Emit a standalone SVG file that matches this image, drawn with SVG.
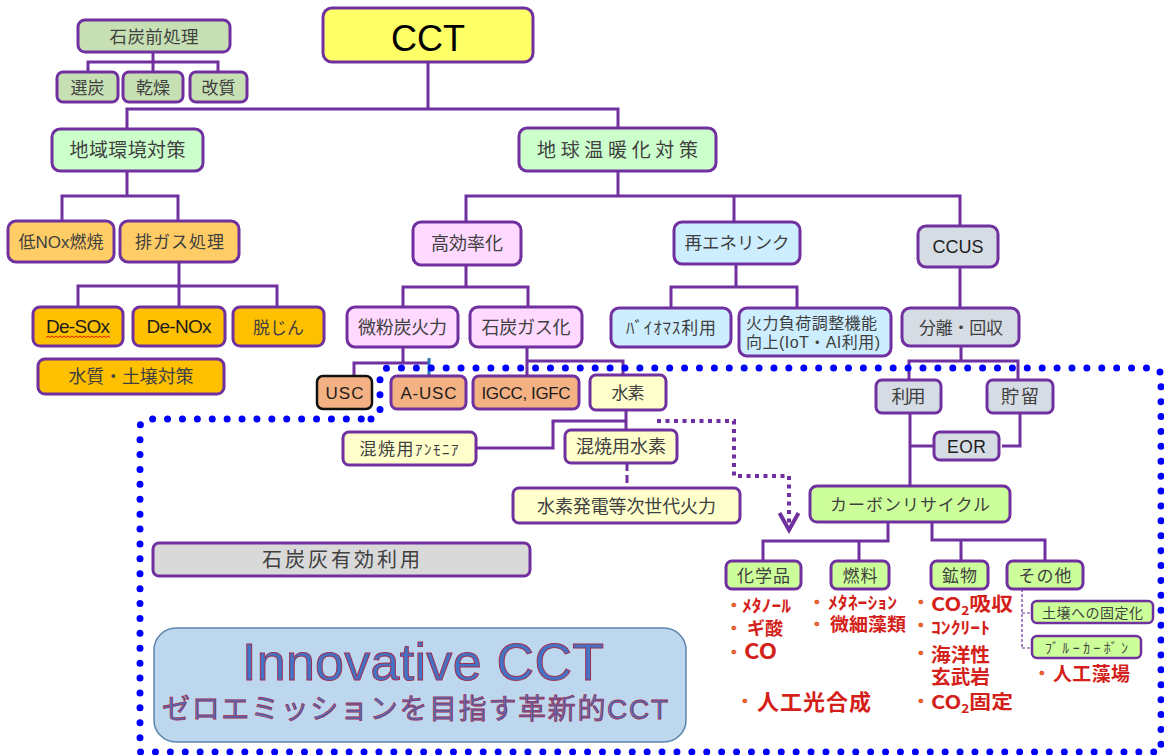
<svg xmlns="http://www.w3.org/2000/svg" width="1164" height="755" viewBox="0 0 1164 755" font-size="17">
<style>
.n{stroke:#7030a0;stroke-width:3}
.t{font-family:"Liberation Sans","Noto Sans CJK JP",sans-serif;fill:#404040;text-anchor:middle}
.l{fill:#1c1c1c}
.c{fill:none;stroke:#7030a0;stroke-width:3}
.r{font-family:"Noto Sans CJK JP","Liberation Sans",sans-serif;font-weight:700;fill:#d41f1a}
.b{font-family:"Liberation Sans",sans-serif;font-size:15px;fill:#f06a2a;stroke:#cc2200;stroke-width:0.5;text-anchor:middle}
.g1{fill:#c6e0b4}.g2{fill:#ccffcc}.o1{fill:#ffcc66}.o2{fill:#ffc000}.p{fill:#ffd9ff}.bl{fill:#cdeeff}.gr{fill:#d6dce4}.sa{fill:#f4b183}.y{fill:#ffffcc}.lg{fill:#ccff99}
</style>
<defs>
<marker id="chev" markerUnits="userSpaceOnUse" viewBox="-22 -13 26 26" refX="0" refY="0" markerWidth="26" markerHeight="26" orient="auto">
<path d="M-17,-9.5 L0,0 L-17,9.5" fill="none" stroke="#7030a0" stroke-width="4"/>
</marker>
</defs>
<rect width="1164" height="755" fill="#ffffff"/>
<g id="connectors" class="c">
<path d="M153,52 V62 M88,72 V62 H218 V72 M153,62 V72"/>
<path d="M428,62 V109 M127,129 V109 H618 V128"/>
<path d="M127,171 V196 M62,221 V196 H178 V221"/>
<path d="M179,262 V286 M78,307 V286 H277 V307 M179,286 V307"/>
<path d="M618,171 V196 M466,222 V196 H960 V226 M734,196 V222"/>
<path d="M466,265 V287 M403,307 V287 H528 V307"/>
<path d="M736,264 V287 M671,308 V287 H797 V308"/>
<path d="M960,267 V308"/>
<path d="M961,346 V361 M909,380 V361 H1018 V380"/>
<path d="M403,347 V363 M354,376 V363 H429"/>
<path d="M429,358 V375" style="stroke:#2e75b6"/>
<path d="M527,347 V377 M527,361 H623 V375"/>
<path d="M626,410 V430 M626,421 H553 V448 H476"/>
<path d="M627,463 V488" stroke-dasharray="8 4"/>
<path d="M910,413 V486 M910,446 H934"/>
<path d="M1020,413 V446 H1002"/>
<path d="M888,522 V541 H763 V561 M859,541 V561"/>
<path d="M932,522 V540 H1045 V561 M961,540 V561"/>
<path d="M1022,589 V648 M1022,613 H1032 M1022,648 H1032" style="stroke-width:1.2" stroke-dasharray="3 2"/>
<path d="M657,421 H734 V476 H789 V530" style="stroke-width:4" stroke-dasharray="4 4.5" marker-end="url(#chev)"/>
</g>
<path id="innovative-area" d="M371,419 Q380,419 380,410 V377 Q380,368 389,368 H1152 Q1161,368 1161,377 V752 H140 V428 Q140,419 149,419 Z" fill="none" stroke="#0000ff" stroke-width="7" stroke-linecap="round" stroke-dasharray="0 14.9"/>
<g id="sekitan-maeshori"><rect class="n g1" x="78" y="20" width="152" height="32" rx="7"/><text class="t" x="154" y="42.5" font-size="17.5" textLength="89">石炭前処理</text></g>
<g id="sentan"><rect class="n g1" x="57" y="72" width="61" height="30" rx="6"/><text class="t" x="87.5" y="93.5" textLength="34">選炭</text></g>
<g id="kanso"><rect class="n g1" x="123" y="72" width="60" height="30" rx="6"/><text class="t" x="153" y="93.5" textLength="34">乾燥</text></g>
<g id="kaishitsu"><rect class="n g1" x="190" y="72" width="57" height="30" rx="6"/><text class="t" x="218.5" y="93.5" textLength="34">改質</text></g>
<g id="cct"><rect class="n" x="323" y="8" width="210" height="54" rx="9" fill="#ffff66"/><text class="t" x="428" y="51" font-size="36" style="fill:#000">CCT</text></g>
<g id="chiiki"><rect class="n g2" x="52" y="129" width="151" height="42" rx="8"/><text class="t" x="127.5" y="157" font-size="19" textLength="116">地域環境対策</text></g>
<g id="chikyu"><rect class="n g2" x="519" y="128" width="197" height="43" rx="8"/><text class="t" x="617.5" y="157" font-size="19" textLength="161">地球温暖化対策</text></g>
<g id="low-nox"><rect class="n o1" x="8" y="221" width="106" height="41" rx="8"/><text class="t" x="61" y="248" textLength="85">低NOx燃焼</text></g>
<g id="haigasu"><rect class="n o1" x="120" y="221" width="119" height="41" rx="8"/><text class="t" x="179.5" y="248" textLength="89">排ガス処理</text></g>
<g id="de-sox"><rect class="n o2" x="33" y="307" width="90" height="39" rx="7"/><text class="t l" x="78" y="333" font-size="19" textLength="64">De-SOx</text><path d="M46,337.5 l2,-1.5 l2,1.5 l2,-1.5 l2,1.5 l2,-1.5 l2,1.5 l2,-1.5 l2,1.5 l2,-1.5 l2,1.5 l2,-1.5 l2,1.5 l2,-1.5 l2,1.5 l2,-1.5 l2,1.5 l2,-1.5 l2,1.5 l2,-1.5 l2,1.5 l2,-1.5 l2,1.5 l2,-1.5 l2,1.5 l2,-1.5 l2,1.5 l2,-1.5 l2,1.5 l2,-1.5 l2,1.5 l2,-1.5 l2,1.5" fill="none" stroke="#e02020" stroke-width="1"/></g>
<g id="de-nox"><rect class="n o2" x="133" y="307" width="92" height="39" rx="7"/><text class="t l" x="179" y="333" font-size="19" textLength="65">De-NOx</text></g>
<g id="datsujin"><rect class="n o2" x="233" y="307" width="91" height="39" rx="7"/><text class="t" x="278.5" y="334" textLength="51">脱じん</text></g>
<g id="suishitsu"><rect class="n o2" x="38" y="359" width="186" height="35" rx="7"/><text class="t" x="131" y="383" font-size="18" textLength="125">水質・土壌対策</text></g>
<g id="kokoritsu"><rect class="n p" x="413" y="222" width="108" height="43" rx="8"/><text class="t" x="467" y="250" font-size="18" textLength="72">高効率化</text></g>
<g id="bifuntan"><rect class="n p" x="347" y="307" width="111" height="40" rx="8"/><text class="t" x="402.5" y="333.5" font-size="18" textLength="89">微粉炭火力</text></g>
<g id="gasuka"><rect class="n p" x="470" y="307" width="112" height="40" rx="8"/><text class="t" x="526" y="333.5" font-size="18" textLength="89">石炭ガス化</text></g>
<g id="saiene"><rect class="n bl" x="674" y="222" width="126" height="42" rx="8"/><text class="t" x="737" y="249" font-size="17.5" textLength="105">再エネリンク</text></g>
<g id="biomass"><rect class="n bl" x="611" y="308" width="120" height="39" rx="8"/><text class="t" x="671" y="334" textLength="90">ﾊﾞｲｵﾏｽ利用</text></g>
<g id="karyoku-fuka"><rect class="n bl" x="739" y="308" width="152" height="48" rx="8"/><text class="t" x="746" y="329" font-size="16" style="text-anchor:start" textLength="131">火力負荷調整機能</text><text class="t" x="746" y="347.5" font-size="16" style="text-anchor:start" textLength="134">向上(IoT・AI利用)</text></g>
<g id="ccus"><rect class="n gr" x="918" y="226" width="80" height="41" rx="8"/><text class="t l" x="958" y="253" font-size="18" textLength="51">CCUS</text></g>
<g id="bunri"><rect class="n gr" x="902" y="308" width="117" height="38" rx="8"/><text class="t" x="961" y="333.5" textLength="84">分離・回収</text></g>
<g id="usc"><rect class="sa" x="317" y="376" width="55" height="33" rx="6" stroke="#111" stroke-width="2.5"/><text class="t l" x="344.5" y="398.5" textLength="38">USC</text></g>
<g id="a-usc"><rect class="n sa" x="391" y="376" width="75" height="33" rx="6"/><text class="t l" x="428.5" y="398.5" textLength="56">A-USC</text></g>
<g id="igcc"><rect class="n sa" x="473" y="376" width="106" height="33" rx="6"/><text class="t l" x="526" y="398.5" textLength="89">IGCC, IGFC</text></g>
<g id="suiso"><rect class="n y" x="590" y="375" width="76" height="35" rx="6"/><text class="t" x="628" y="399" textLength="33">水素</text></g>
<g id="konsho-ammonia"><rect class="n y" x="343" y="432" width="133" height="33" rx="6"/><text class="t" x="409" y="455" textLength="99">混焼用<tspan font-size="15">ｱﾝﾓﾆｱ</tspan></text></g>
<g id="konsho-suiso"><rect class="n y" x="565" y="430" width="112" height="33" rx="6"/><text class="t" x="621" y="453" font-size="18" textLength="90">混焼用水素</text></g>
<g id="suiso-hatsuden"><rect class="n y" x="513" y="488" width="227" height="35" rx="6"/><text class="t" x="626.5" y="512.5" font-size="18" textLength="179">水素発電等次世代火力</text></g>
<g id="sekitanbai"><rect class="n" x="153" y="543" width="377" height="33" rx="6" fill="#d9d9d9"/><text class="t" x="341" y="567" font-size="20" textLength="158">石炭灰有効利用</text></g>
<g id="riyo"><rect class="n gr" x="876" y="380" width="65" height="33" rx="6"/><text class="t" x="908.5" y="403" font-size="18" textLength="34">利用</text></g>
<g id="choryu"><rect class="n gr" x="987" y="380" width="66" height="33" rx="6"/><text class="t" x="1020" y="403" font-size="18" textLength="38">貯留</text></g>
<g id="eor"><rect class="n gr" x="934" y="432" width="65" height="28" rx="6"/><text class="t l" x="966.5" y="452.5" font-size="17.5" textLength="39">EOR</text></g>
<g id="carbon-recycle"><rect class="n lg" x="810" y="486" width="200" height="36" rx="7"/><text class="t" x="910" y="510.5" textLength="160">カーボンリサイクル</text></g>
<g id="kagakuhin"><rect class="n lg" x="726" y="561" width="75" height="28" rx="6"/><text class="t" x="763.5" y="581.5" textLength="53">化学品</text></g>
<g id="nenryo"><rect class="n lg" x="831" y="561" width="58" height="28" rx="6"/><text class="t" x="860" y="581.5" textLength="35">燃料</text></g>
<g id="kobutsu"><rect class="n lg" x="931" y="561" width="57" height="28" rx="6"/><text class="t" x="959.5" y="581.5" textLength="35">鉱物</text></g>
<g id="sonota"><rect class="n lg" x="1007" y="561" width="76" height="28" rx="6"/><text class="t" x="1045" y="581.5" textLength="53">その他</text></g>
<g id="dojo"><rect class="n lg" x="1032" y="601" width="121" height="22" rx="5" style="stroke-width:2.5"/><text class="t" x="1092.5" y="617.5" font-size="14" textLength="101">土壌への固定化</text></g>
<g id="blue-carbon"><rect class="n lg" x="1032" y="636" width="109" height="22" rx="5" style="stroke-width:2.5"/><text class="t" x="1086.5" y="652.5" font-size="14" textLength="83">ﾌﾞﾙｰｶｰﾎﾞﾝ</text></g>
<g id="examples" font-size="18">
<text class="b" x="734" y="610">•</text><text class="r" x="742" y="612" font-size="17" textLength="49" lengthAdjust="spacingAndGlyphs">ﾒﾀﾉｰﾙ</text>
<text class="b" x="734" y="633">•</text><text class="r" x="747" y="635" textLength="36">ギ酸</text>
<text class="b" x="734" y="657">•</text><text class="r" x="744" y="659" font-size="21" textLength="33" lengthAdjust="spacingAndGlyphs">CO</text>
<text class="b" x="817" y="607">•</text><text class="r" x="828" y="609" font-size="17" textLength="69" lengthAdjust="spacingAndGlyphs">ﾒﾀﾈｰｼｮﾝ</text>
<text class="b" x="817" y="629">•</text><text class="r" x="830" y="631" textLength="76" lengthAdjust="spacingAndGlyphs">微細藻類</text>
<text class="b" x="921" y="607">•</text><text class="r" x="931" y="611" font-size="19" textLength="82" lengthAdjust="spacingAndGlyphs">CO<tspan font-size="12" dy="4">2</tspan><tspan dy="-4">吸収</tspan></text>
<text class="b" x="921" y="630">•</text><text class="r" x="931" y="634" font-size="17" textLength="59" lengthAdjust="spacingAndGlyphs">ｺﾝｸﾘｰﾄ</text>
<text class="b" x="921" y="658">•</text><text class="r" x="931" y="662" font-size="19" textLength="59" lengthAdjust="spacingAndGlyphs">海洋性</text>
<text class="r" x="931" y="684" font-size="19" textLength="59" lengthAdjust="spacingAndGlyphs">玄武岩</text>
<text class="b" x="921" y="706">•</text><text class="r" x="931" y="709" font-size="19" textLength="82" lengthAdjust="spacingAndGlyphs">CO<tspan font-size="12" dy="4">2</tspan><tspan dy="-4">固定</tspan></text>
<text class="b" x="745" y="706">•</text><text class="r" x="757" y="710" font-size="22" textLength="114">人工光合成</text>
<text class="b" x="1042" y="678">•</text><text class="r" x="1053" y="681" font-size="19" textLength="77">人工藻場</text>
</g>
<g id="innovative-cct"><rect x="154" y="628" width="532" height="114" rx="22" fill="#bdd7ee" stroke="#5a84ad" stroke-width="1.5"/><text class="t" x="423" y="680" font-size="52" textLength="362" style="fill:#4472c4;stroke:#a03050;stroke-width:1">Innovative CCT</text><text class="t" x="415" y="719" font-size="28" textLength="506" style="fill:#4472c4;stroke:#a03050;stroke-width:0.8">ゼロエミッションを目指す革新的CCT</text></g>
</svg>
